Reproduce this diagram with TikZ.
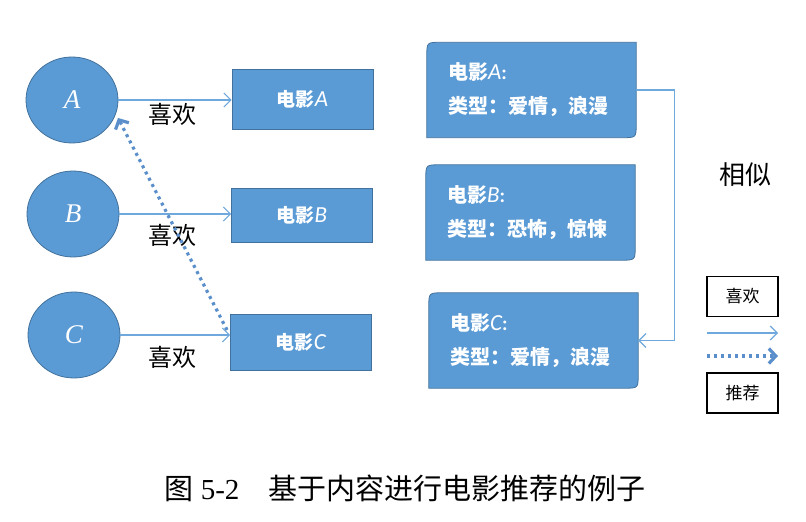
\documentclass[tikz,border=0pt]{standalone}
\usepackage{fontspec}
\setmainfont{Noto Sans CJK SC}
\newfontfamily\tmsfont{Liberation Serif}
\newfontfamily\calfont{Carlito}
\usetikzlibrary{shapes.geometric,arrows.meta,calc}
\definecolor{boxfill}{HTML}{5B9BD5}
\definecolor{boxline}{HTML}{41719C}
\definecolor{arrowblue}{HTML}{6FA8DC}
\definecolor{dotblue}{HTML}{5A8FCB}
\tikzset{
  x=1bp, y=-1bp,
  person/.style={ellipse, fill=boxfill, draw=boxline, line width=0.8bp,
    minimum width=92bp, minimum height=86bp, inner sep=0pt, text=white,
    font=\tmsfont\itshape\fontsize{27bp}{27bp}\selectfont},
  movie/.style={rectangle, fill=boxfill, draw=boxline, line width=0.8bp,
    minimum width=141bp, minimum height=57bp, inner sep=0pt, text=white,
    font=\bfseries\fontsize{19bp}{19bp}\selectfont},
  infobox/.style={rectangle, draw=none, minimum width=209bp, minimum height=95bp, inner sep=0pt},
  infotext/.style={anchor=west, align=left, text=white, inner sep=0pt,
    font=\bfseries\fontsize{20bp}{34bp}\selectfont},
  like/.style={draw=arrowblue, line width=1.1bp, -{Straight Barb[length=7bp,width=14bp,line width=1.1bp]}},
  recom/.style={draw=dotblue, line width=3.2bp, dash pattern=on 3bp off 4bp,
    -{Straight Barb[length=7bp,width=15bp,line width=3.2bp]}},
  lbl/.style={text=black, inner sep=0pt, font=\fontsize{24bp}{24bp}\selectfont},
  legbox/.style={rectangle, draw=black, line width=1.2bp, minimum width=71bp,
    minimum height=40bp, inner sep=0pt, font=\fontsize{17bp}{17bp}\selectfont},
}
\newcommand\snipbox[1]{%
  \path[fill=boxfill, draw=boxline, line width=0.8bp]
    (#1.south west) -- ($(#1.north west)+(0,14)$)
    .. controls (#1.north west) .. ($(#1.north west)+(14,0)$)
    -- (#1.north east) -- ($(#1.south east)+(0,-14)$)
    .. controls (#1.south east) .. ($(#1.south east)+(-14,0)$) -- cycle;}
\begin{document}
\begin{tikzpicture}
\useasboundingbox (0,0) rectangle (806,522);
\fill[white] (0,0) rectangle (806,522);

% people
\node[person] (ca) at (72,100) {A};
\node[person] (cb) at (73,214) {B};
\node[person] (cc) at (74,335) {C};

% movies
\node[movie, minimum height=60bp] (ma) at (302.5,99) {电影{\calfont\mdseries\itshape\fontsize{23bp}{23bp}\selectfont A}};
\node[movie, minimum height=54bp] (mb) at (302,215) {电影{\calfont\mdseries\itshape\fontsize{23bp}{23bp}\selectfont B}};
\node[movie, minimum height=56bp] (mc) at (301,342) {电影{\calfont\mdseries\itshape\fontsize{23bp}{23bp}\selectfont C}};

% like arrows
\draw[like] (ca.east) -- (ca.east -| ma.west);
\draw[like] (cb.east) -- (cb.east -| mb.west);
\draw[like] (cc.east) -- (cc.east -| mc.west);
\node[lbl] (la) at (172,114) {喜欢};
\node[lbl] (lb) at (172,235) {喜欢};
\node[lbl] (lc) at (172,357) {喜欢};

% recommendation
\coordinate (rs) at (227,330);
\coordinate (re) at (118,118);
\draw[recom] (rs) -- (re);

% info boxes
\node[infobox] (ia) at (531.5,90) {};
\node[infobox] (ib) at (530.5,212.5) {};
\node[infobox] (ic) at (533.5,340.5) {};
\snipbox{ia}\snipbox{ib}\snipbox{ic}
\node[infotext] (ta) at ($(ia.west)+(21,0)$) {电影{\calfont\mdseries\itshape\fontsize{23bp}{23bp}\selectfont A}{\calfont :}\\类型：爱情，浪漫};
\node[infotext] (tb) at ($(ib.west)+(21,0)$) {电影{\calfont\mdseries\itshape\fontsize{23bp}{23bp}\selectfont B}{\calfont :}\\类型：恐怖，惊悚};
\node[infotext] (tc) at ($(ic.west)+(21,0)$) {电影{\calfont\mdseries\itshape\fontsize{23bp}{23bp}\selectfont C}{\calfont :}\\类型：爱情，浪漫};

% similarity connector
\draw[like] (ia.east) -- ++(38,0) |- (ic.east);
\node[lbl, font=\fontsize{26bp}{26bp}\selectfont] (sim) at (745,175) {相似};

% legend
\node[legbox] (lg1) at (742.5,296.5) {喜欢};
\node[legbox] (lg2) at (742.5,393) {推荐};
\coordinate (l1s) at (707,333);
\coordinate (l1e) at (778,333);
\coordinate (l2s) at (707,356);
\coordinate (l2e) at (778,356);
\draw[like] (l1s) -- (l1e);
\draw[recom] (l2s) -- (l2e);

% caption
\node[inner sep=0pt, font=\fontsize{29bp}{29bp}\selectfont] (cap) at (405,488)
  {图\hspace{0.25em}{\tmsfont 5-2}\hspace{1em}基于内容进行电影推荐的例子};
\end{tikzpicture}
\end{document}
